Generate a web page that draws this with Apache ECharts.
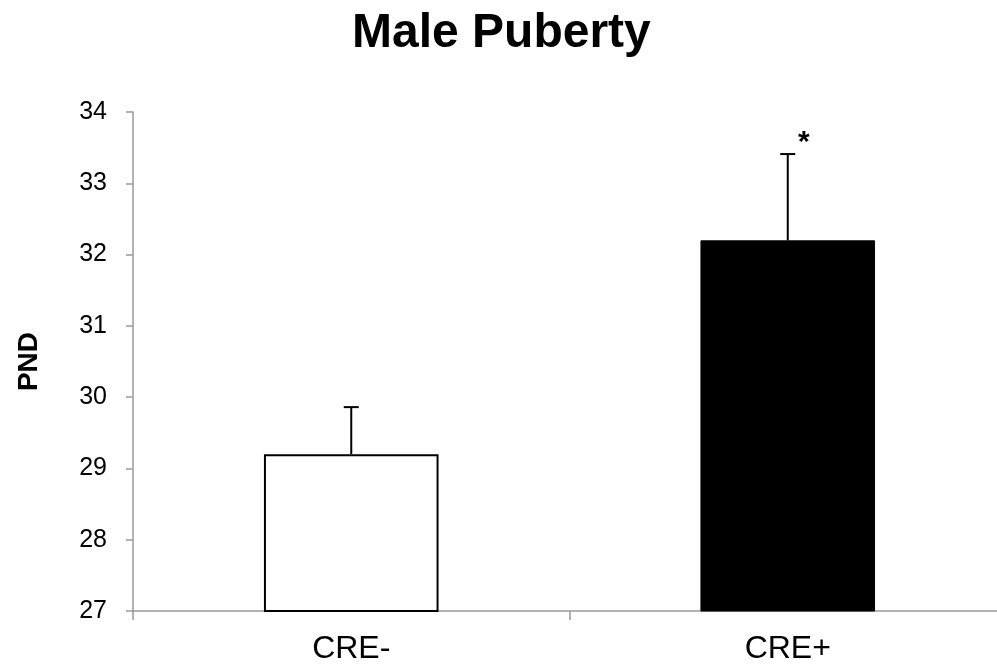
<!DOCTYPE html>
<html>
<head>
<meta charset="utf-8">
<script src="https://cdn.jsdelivr.net/npm/echarts@6/dist/echarts.min.js"></script>
<style>
html,body{margin:0;padding:0;background:#fff;overflow:hidden;width:997px;height:669px;}
#chart{width:1006px;height:669px;}
</style>
</head>
<body>
<div id="chart"></div>
<script>
var categories = ['CRE-', 'CRE+'];
var means = [29.2, 32.2];
var errors = [0.66, 1.21];
var marks = ['', '*'];
var yTicks = [27, 28, 29, 30, 31, 32, 33, 34];

var chart = echarts.init(document.getElementById('chart'));
var font = '"Liberation Sans", Arial, sans-serif';
chart.setOption({
  animation: false,
  backgroundColor: '#ffffff',
  title: {
    text: 'Male Puberty',
    left: 347,
    top: 5,
    textStyle: { fontFamily: font, fontSize: 48, fontWeight: 'bold', color: '#000' }
  },
  grid: { left: 133, right: 0, top: 112, bottom: 58 },
  xAxis: {
    type: 'category',
    data: categories,
    axisLine: { lineStyle: { color: '#9a9a9a', width: 1.5 } },
    axisTick: { show: true, length: 9, lineStyle: { color: '#9a9a9a', width: 1.5 } },
    axisLabel: { color: '#000', fontFamily: font, fontSize: 32, margin: 22 }
  },
  yAxis: {
    type: 'value',
    min: yTicks[0],
    max: yTicks[yTicks.length - 1],
    interval: 1,
    name: 'PND',
    nameLocation: 'middle',
    nameRotate: 90,
    nameGap: 90,
    nameTextStyle: { fontFamily: font, fontSize: 28, fontWeight: 'bold', color: '#000' },
    axisLine: { show: true, lineStyle: { color: '#9a9a9a', width: 1.5 } },
    axisTick: { show: true, length: 7, lineStyle: { color: '#9a9a9a', width: 1.5 } },
    splitLine: { show: false },
    axisLabel: { color: '#000', fontFamily: font, fontSize: 25, margin: 26 }
  },
  series: [
    {
      type: 'bar',
      barWidth: '40%',
      data: means.map(function (v, i) {
        return {
          value: v,
          itemStyle: i === 0
            ? { color: '#ffffff', borderColor: '#000', borderWidth: 2 }
            : { color: '#000000', borderColor: '#000', borderWidth: 1 }
        };
      }),
      z: 2
    },
    {
      type: 'custom',
      z: 3,
      data: means.map(function (v, i) { return [i, v, v + errors[i]]; }),
      renderItem: function (params, api) {
        var base = api.coord([api.value(0), api.value(1)]);
        var top = api.coord([api.value(0), api.value(2)]);
        var hw = 7.5;
        var children = [
          { type: 'line', shape: { x1: base[0], y1: base[1], x2: top[0], y2: top[1] }, style: { stroke: '#000', lineWidth: 2 } },
          { type: 'line', shape: { x1: top[0] - hw, y1: top[1], x2: top[0] + hw, y2: top[1] }, style: { stroke: '#000', lineWidth: 2 } }
        ];
        var m = marks[params.dataIndex];
        if (m) {
          children.push({
            type: 'text',
            style: { text: m, x: top[0] + 16, y: top[1] - 11, fill: '#000', font: 'bold 30px ' + font, textAlign: 'center', textVerticalAlign: 'middle' }
          });
        }
        return { type: 'group', children: children };
      }
    }
  ]
});
</script>
</body>
</html>
